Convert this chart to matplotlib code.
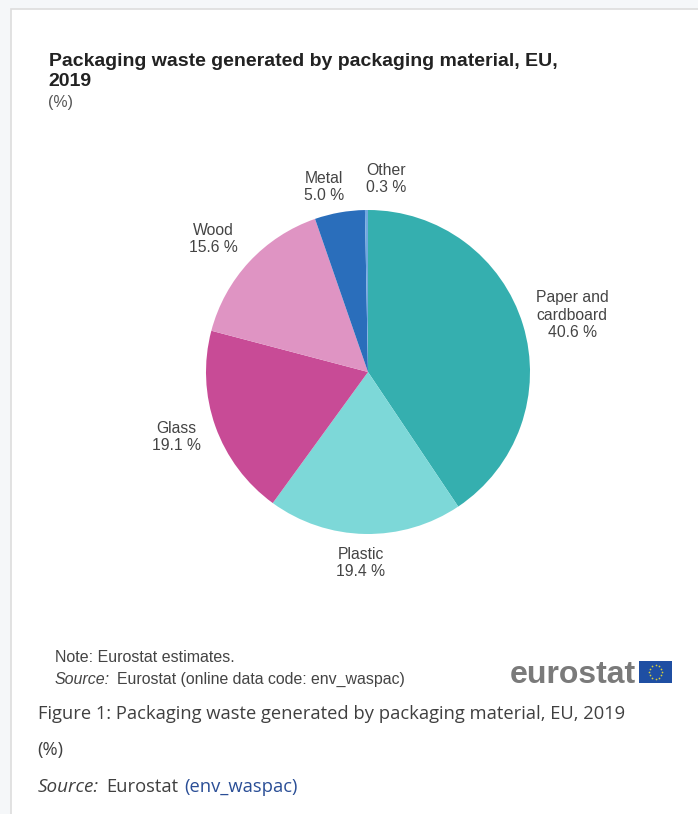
import numpy as np
import matplotlib
matplotlib.use("Agg")
import matplotlib.pyplot as plt
from matplotlib.patches import Rectangle

W, H = 698, 814

materials = ["Paper and\ncardboard", "Plastic", "Glass", "Wood", "Metal", "Other"]
shares = [40.6, 19.4, 19.1, 15.6, 5.0, 0.3]
colors = ["#35AFAF", "#7DD8D8", "#C84B96", "#DF94C3", "#2A6EBB", "#71A8DF"]

# label centres in pixels, same order as materials
label_xy = [(572, 315), (361, 563), (176, 437), (213, 239), (324, 187), (386, 179)]

plt.rcParams['font.family'] = ['Liberation Sans', 'DejaVu Sans']


def fx(x):
    return x / W


def fy(y):
    return 1 - y / H


fig = plt.figure(figsize=(W / 100, H / 100), dpi=100, facecolor="#F5F7F9")

# white card behind everything, its right and bottom edges run off the figure
fig.add_artist(Rectangle((fx(11), -0.1), 1.1, fy(9) + 0.1, transform=fig.transFigure,
                         facecolor="white", edgecolor="#DDDDDD", linewidth=1.2, zorder=-5))

# -------------------- pie --------------------
cx, cy, r = 368, 372, 162
ax = fig.add_axes([fx(cx - r), fy(cy + r), 2 * r / W, 2 * r / H])
ax.pie(shares, colors=colors, startangle=90, counterclock=False, radius=1,
       wedgeprops={"linewidth": 0})
ax.set_xlim(-1, 1)
ax.set_ylim(-1, 1)

for name, share, (x, y) in zip(materials, shares, label_xy):
    fig.text(fx(x), fy(y), f"{name}\n{share:.1f} %", ha="center", va="center",
             fontsize=11.3, color="#444444", linespacing=1.21)

# -------------------- titles --------------------
fig.text(fx(49), fy(61), "Packaging waste generated by packaging material, EU,", fontsize=14,
         fontweight="bold", color="#222222", va="center")
fig.text(fx(48), fy(82), "2019", fontsize=14, fontweight="bold", color="#222222", va="center")
fig.text(fx(48), fy(102), "(%)", fontsize=11.4, color="#555555", va="center")

# -------------------- notes --------------------
fig.text(fx(55), fy(657), "Note: Eurostat estimates.", fontsize=11.5, color="#444444", va="center")
fig.text(fx(55), fy(679), "Source:", fontsize=11.5, style="italic", color="#444444", va="center")
fig.text(fx(117), fy(679), "Eurostat (online data code: env_waspac)", fontsize=11.4,
         color="#444444", va="center")

# -------------------- logo --------------------
fig.text(fx(510), fy(675), "eurostat", fontsize=23, fontweight="bold", color="#7A7A7A", va="center")
flag = fig.add_axes([fx(639), fy(683), 33 / W, 22 / H])
flag.set_xlim(-1.5, 1.5)
flag.set_ylim(-1, 1)
flag.set_facecolor("#1F4FA3")
flag.set_xticks([])
flag.set_yticks([])
for s in flag.spines.values():
    s.set_visible(False)
angles = np.linspace(0, 2 * np.pi, 12, endpoint=False)
flag.scatter(0.62 * np.cos(angles), 0.62 * np.sin(angles), s=1.5, color="#D9CF3A", linewidths=0)

# -------------------- caption under the chart --------------------
body = ['Open Sans', 'DejaVu Sans']
fig.text(fx(38), fy(714), "Figure 1: Packaging waste generated by packaging material, EU, 2019",
         family=body, fontsize=13.2, color="#404040", va="center")
fig.text(fx(37), fy(750), "(%)", family=body, fontsize=13.2, color="#404040", va="center")
fig.text(fx(38), fy(787), "Source:", family=body, style="italic", fontsize=13.6, color="#404040", va="center")
fig.text(fx(106), fy(787), "Eurostat", family=body, fontsize=13.2, color="#404040", va="center")
fig.text(fx(184), fy(787), "(env_waspac)", family=body, fontsize=13.2, color="#2A4E96", va="center")

fig.savefig("out.png", dpi=100, facecolor=fig.get_facecolor())
